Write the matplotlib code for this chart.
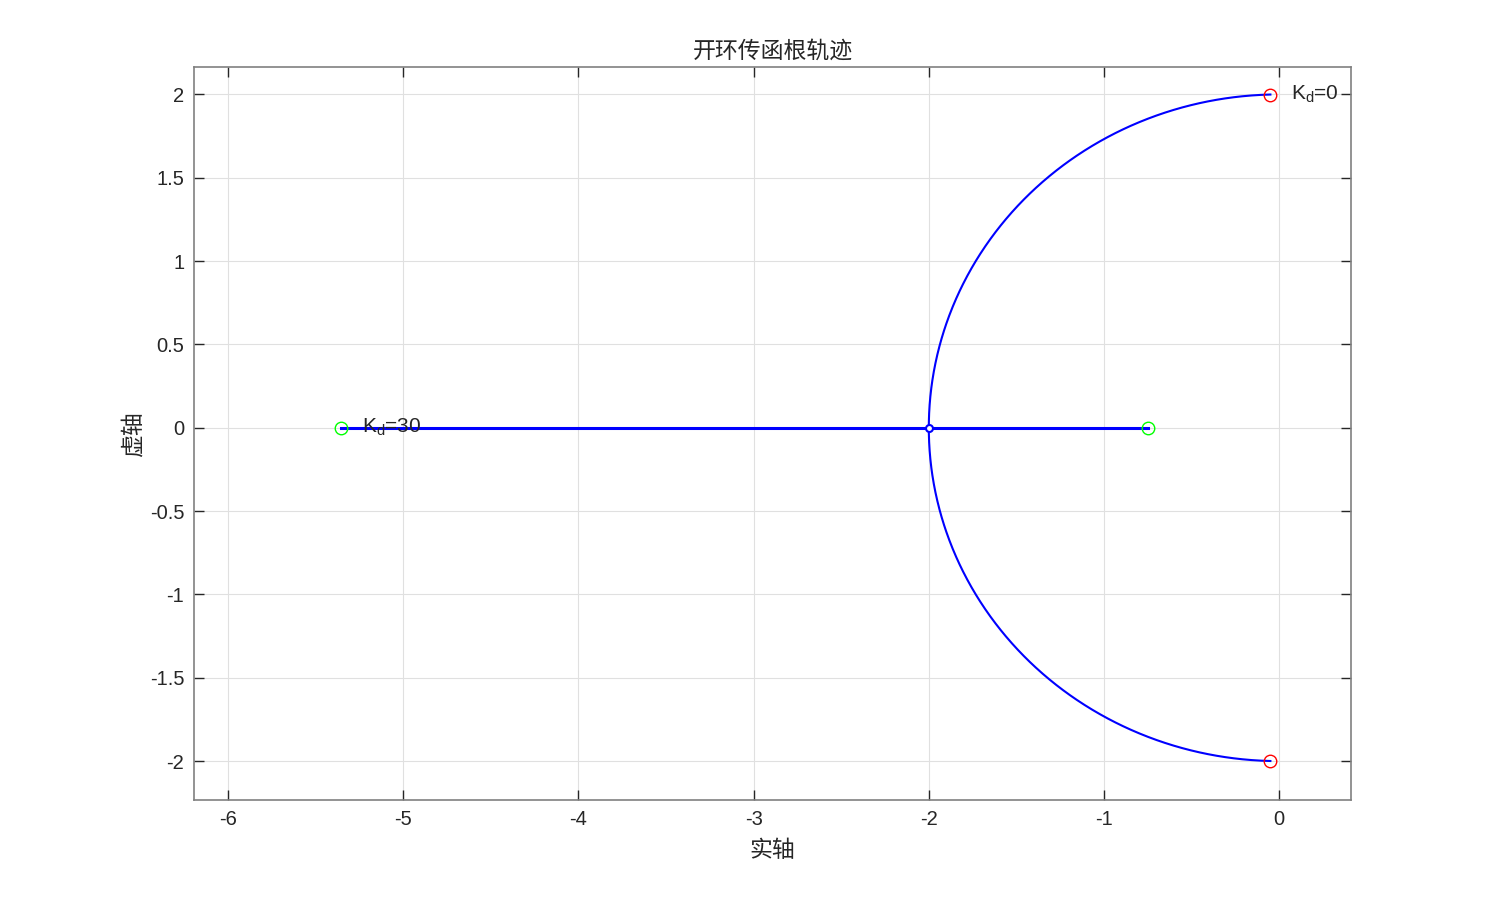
import numpy as np
import matplotlib
matplotlib.use("Agg")
import matplotlib.pyplot as plt

plt.rcParams['font.family'] = ['Liberation Sans', 'Noto Sans CJK SC', 'DejaVu Sans']
plt.rcParams['axes.unicode_minus'] = False
plt.rcParams['mathtext.fontset'] = 'custom'
plt.rcParams['mathtext.rm'] = 'Liberation Sans'
plt.rcParams['mathtext.it'] = 'Liberation Sans'

# open loop: characteristic polynomial den(s) + Kd * num(s) = 0
den = [1.0, 0.1, 4.0]
num = [0.0, 0.2, 0.0]
kd_start, kd_end = 0, 30
kd_break = 19.5
kd_values = np.unique(np.concatenate([
    np.linspace(kd_start, kd_break, 400),
    kd_break - np.geomspace(1e-6, 1, 200),
    np.linspace(kd_break, kd_end, 400)]))

xticks = [-6, -5, -4, -3, -2, -1, 0]
yticks = [-2, -1.5, -1, -0.5, 0, 0.5, 1, 1.5, 2]

# roots for each gain, sorted into two branches
b1, b2 = [], []
for k in kd_values:
    r = np.roots(np.array(den) + k * np.array(num))
    if abs(r[0].imag) > 1e-9:
        r = sorted(r, key=lambda z: -z.imag)
    else:
        r = sorted(r.real, key=lambda z: -z)
    b1.append(complex(r[0]))
    b2.append(complex(r[1]))
b1 = np.array(b1)
b2 = np.array(b2)

fig = plt.figure(figsize=(14.93, 8.99), dpi=100)
ax = fig.add_axes([0.13, 0.11, 0.775, 0.815])

for b in (b1, b2):
    cplx = (np.abs(b.imag) > 1e-9) | (kd_values <= kd_break)
    ax.plot(b.real[cplx], b.imag[cplx], color='#0000ff', lw=1.5)
    real = kd_values >= kd_break
    ax.plot(b.real[real], b.imag[real], color='#0000ff', lw=2.2)

# start points (Kd=0), end points (Kd=30), breakaway
ax.plot([b1[0].real, b2[0].real], [b1[0].imag, b2[0].imag], 'o', mfc='none', mec='red', ms=9, mew=1)
ax.plot([b1[-1].real, b2[-1].real], [b1[-1].imag, b2[-1].imag], 'o', mfc='none', mec='#00ff00', ms=9, mew=1)
ax.plot([-2], [0], 'o', mfc='white', mec='#0000ff', ms=5, mew=1.5)

ax.text(b1[0].real + 0.12, b1[0].imag, 'K$_\\mathrm{d}$=0', fontsize=15, va='center', color='#262626')
ax.text(b2[-1].real + 0.12, 0, 'K$_\\mathrm{d}$=30', fontsize=15, va='center', color='#262626')

ax.set_xlim(-6.194, 0.411)
ax.set_ylim(-2.234, 2.162)
ax.set_xticks(xticks)
ax.set_yticks(yticks)
ax.set_xticklabels([str(v) for v in xticks])
ax.set_yticklabels([('%g' % v) for v in yticks])
ax.grid(True, color='#e0e0e0', lw=0.8)
ax.tick_params(direction='in', top=True, right=True, length=7, width=1,
               labelsize=14.5, colors='#262626', pad=7)
for s in ax.spines.values():
    s.set_color('#808080')
    s.set_linewidth(1.2)

ax.set_title('开环传函根轨迹', fontsize=16.5, color='#262626', pad=7,
             family=['Noto Sans CJK SC'])
ax.set_xlabel('实轴', fontsize=16.5, color='#262626', family=['Noto Sans CJK SC'], labelpad=7)
ax.set_ylabel('虚轴', fontsize=16.5, color='#262626', family=['Noto Sans CJK SC'], labelpad=4)

fig.savefig('out.png', dpi=100)
